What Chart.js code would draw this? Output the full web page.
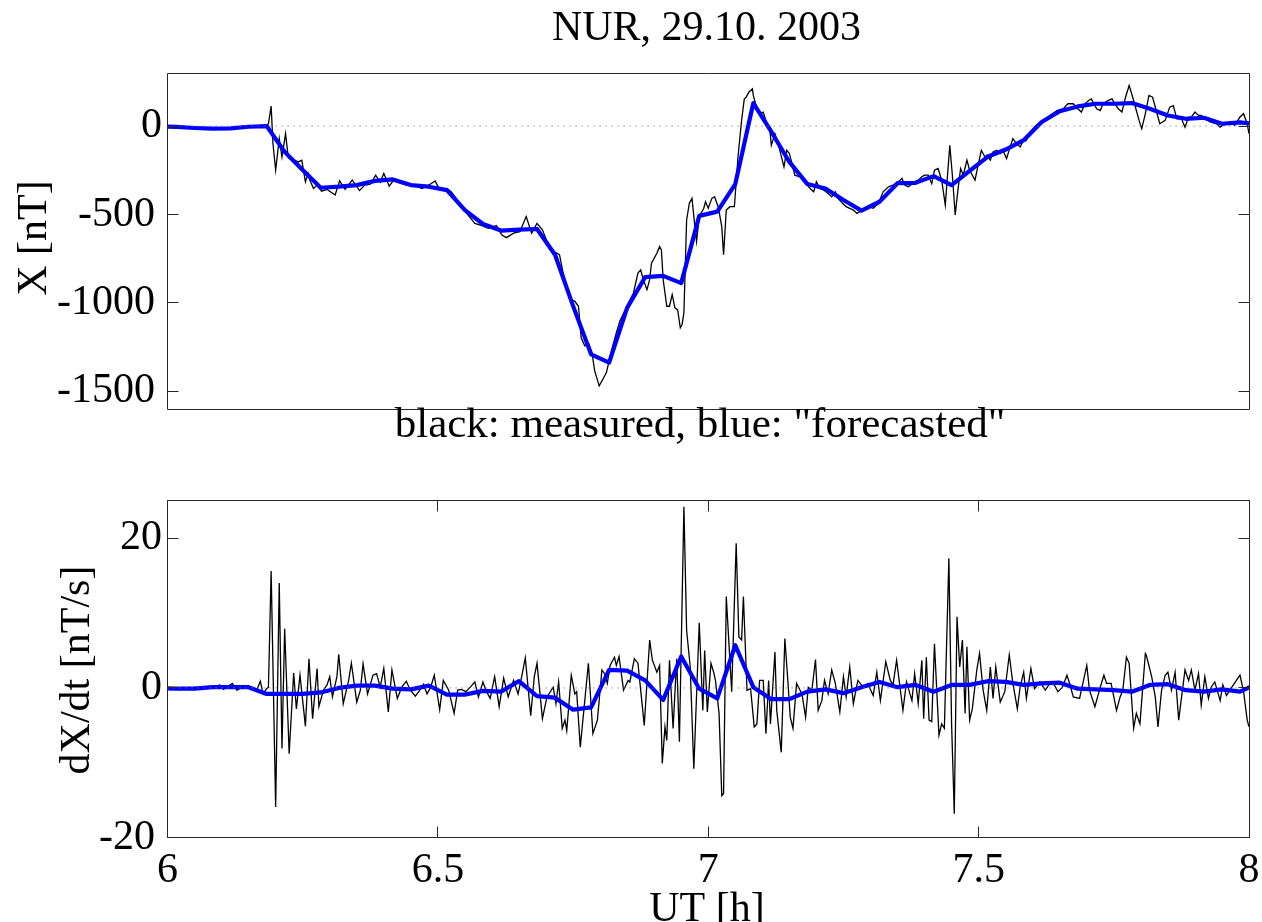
<!DOCTYPE html>
<html>
<head>
<meta charset="utf-8">
<title>NUR, 29.10. 2003</title>
<script src="https://cdn.jsdelivr.net/npm/chart.js@4.4.1/dist/chart.umd.min.js"></script>
<style>
  html, body { margin: 0; padding: 0; background: #fff; overflow: hidden; }
  #wrap { position: relative; width: 1262px; height: 922px; background: #fff; }
  canvas { position: absolute; left: 0; }
  #c1 { top: 0; }
  #c2 { top: 460px; }
</style>
</head>
<body>
<div id="wrap">
  <canvas id="c1" width="1262" height="460"></canvas>
  <canvas id="c2" width="1262" height="462"></canvas>
</div>
<script>
// ---------------- DATA ----------------
// time axis: minutes after 06:00 UT
const xRangeH = [6, 8];
const xTicks = [6, 6.5, 7, 7.5, 8];
const xTickLabels = ['6', '6.5', '7', '7.5', '8'];
const yTicksX = [-1500, -1000, -500, 0];
const yRangeX = [-1600, 300];
const yTicksD = [-20, 0, 20];
const yRangeD = [-20, 25];

// "forecasted" series (blue), one value every 2 minutes
const fcMin = [-1,1,3,5,7,9,11,13,15,17, 19,21,23,25,27,29,31,33,35,37,
  39,41,43,45,47,49,51,53,55,57, 59,61,63,65,67,69,71,73,75,77,
  79,81,83,85,87,89,91,93,95,97, 99,101,103,105,107,109,111,113,115,117,
  119,121];
const fcX = [-2,-5,-11,-15,-13,-4,0,-146,-249,-349,
  -343,-334,-310,-302,-334,-343,-362,-475,-554,-591,
  -586,-582,-728,-1017,-1291,-1338,-1028,-854,-847,-888,
  -508,-484,-328,130,-32,-203,-328,-353,-418,-478,
  -428,-323,-321,-283,-334,-253,-174,-133,-80,23,
  84,111,126,126,130,98,60,41,47,13,
  21,10];
const fcD = [0,-0.1,-0.1,0.1,0.1,0.1,-0.8,-0.8,-0.8,-0.6,
  0.0,0.3,0.3,-0.1,-0.2,0.3,-0.9,-0.9,-0.4,-0.5,
  0.9,-1.1,-1.3,-2.9,-2.6,2.4,2.3,1.0,-1.6,4.2,
  -0.1,-1.4,5.7,0.1,-1.5,-1.5,-0.5,-0.2,-0.7,0.1,
  0.8,0.1,0.4,-0.5,0.4,0.4,0.9,0.8,0.4,0.6,
  0.7,-0.1,-0.2,-0.3,-0.5,0.4,0.5,-0.3,-0.5,-0.2,
  -0.5,0.6];

// measured X (black), turning points
const measXMin = [0,2.1,4.7,6.6,8.0,9.9,10.9,11.2,11.5,11.7,
  12.0,12.4,12.7,13.1,13.4,13.8,14.1,14.5,14.9,15.3,
  15.6,15.8,16.2,16.6,17.1,17.7,18.6,19.1,19.7,20.5,
  21.3,21.9,22.5,23.1,23.6,24.0,24.6,25.1,25.8,26.5,
  27.3,28.2,28.8,29.7,30.2,31.0,31.5,32.3,33.2,34.1,
  34.9,35.6,36.2,36.5,37.1,37.6,38.4,39.1,39.8,40.4,
  41.0,41.6,42.1,42.6,43.2,43.5,43.9,44.5,44.8,45.2,
  45.6,45.9,46.3,46.7,47.1,47.4,47.9,48.3,48.7,49.3,
  49.8,50.2,50.9,51.7,52.2,52.5,52.8,53.2,53.5,53.7,
  54.3,54.6,54.8,55.0,55.4,55.7,56.0,56.3,56.6,56.9,
  57.1,57.3,57.6,57.9,58.2,58.4,58.7,59.0,59.5,59.7,
  60.0,60.4,60.7,61.1,61.5,61.7,62.0,62.4,62.9,63.3,
  63.7,64.0,64.2,64.5,64.9,65.0,65.4,65.7,66.1,66.5,
  66.8,67.0,67.4,67.8,68.4,68.7,69.0,69.3,69.6,70.2,
  70.7,71.3,71.7,72.0,72.4,72.8,73.3,73.7,74.1,74.4,
  74.9,75.3,75.7,76.1,76.5,76.8,77.2,77.8,78.3,78.9,
  79.4,80.0,80.5,81.1,81.5,81.8,82.2,82.7,83.3,83.7,
  84.0,84.4,84.8,85.1,85.5,85.9,86.3,86.8,87.1,87.4,
  87.7,88.0,88.3,88.7,89.0,89.6,89.9,90.3,90.7,90.9,
  91.3,91.6,92.0,92.4,92.7,93.1,93.5,93.8,94.2,94.6,
  94.9,95.3,95.7,96.4,97.2,97.9,98.7,99.4,99.9,100.5,
  101.0,101.4,101.8,102.2,102.5,103.1,103.5,103.8,104.4,104.8,
  105.1,105.5,105.9,106.3,106.7,107.1,107.5,107.8,108.1,108.5,
  108.9,109.3,109.8,110.1,110.7,111.2,111.6,112.0,112.5,112.9,
  113.3,113.6,114.0,114.4,114.7,115.1,115.7,116.4,116.8,117.3,
  117.9,118.4,119.0,119.4,119.8,120.0];
const measXVal = [0,-5,-13,-11,-4,2,-2,13,113,-99,
  -250,-71,-175,-43,-178,-193,-193,-203,-193,-315,
  -268,-306,-353,-334,-368,-358,-390,-310,-358,-305,
  -365,-334,-328,-278,-317,-268,-340,-306,-321,-334,
  -332,-353,-340,-310,-362,-353,-372,-428,-494,-550,
  -563,-578,-569,-563,-616,-631,-606,-597,-512,-606,
  -550,-587,-653,-709,-719,-728,-831,-944,-981,-991,
  -1019,-1197,-1244,-1226,-1282,-1385,-1469,-1432,-1394,-1263,
  -1169,-1103,-1028,-944,-831,-813,-869,-925,-869,-775,
  -719,-681,-700,-869,-1019,-1019,-953,-1028,-1038,-1141,
  -1122,-1056,-531,-437,-409,-512,-653,-512,-465,-428,
  -465,-409,-400,-456,-569,-728,-475,-456,-456,-175,
  32,154,163,191,210,173,98,70,79,13,
  -6,-109,-43,-109,-231,-137,-156,-212,-278,-287,
  -315,-353,-372,-315,-353,-362,-381,-400,-372,-409,
  -437,-456,-465,-475,-494,-484,-475,-456,-465,-437,
  -372,-343,-334,-315,-296,-334,-343,-325,-306,-287,
  -278,-278,-325,-250,-240,-306,-447,-109,-287,-503,
  -362,-240,-278,-193,-250,-306,-231,-137,-175,-165,
  -193,-146,-137,-156,-137,-184,-118,-71,-99,-118,
  -90,-81,-34,4,32,60,88,98,126,126,
  98,79,126,145,154,98,88,126,145,154,
  126,98,79,163,229,163,88,32,-15,70,
  173,163,70,13,32,107,116,41,41,-6,
  51,51,79,60,60,41,23,13,-6,13,
  23,4,51,70,13,-43];

// measured dX/dt (black), turning points
const measDMin = [0,5.4,5.8,6.2,7.2,7.7,8.2,8.9,9.9,10.3,
  10.6,11.0,11.2,11.5,12.0,12.4,12.7,13.0,13.5,14.0,
  14.3,14.7,15.3,15.7,16.1,16.6,16.8,17.3,17.7,18.0,
  18.3,18.8,19.0,19.5,20.1,20.4,21.0,21.4,21.7,22.2,
  22.8,23.2,23.6,24.0,24.5,24.9,25.5,26.0,26.5,26.9,
  27.5,28.0,28.4,28.8,29.2,29.6,30.2,30.6,31.2,31.8,
  32.2,32.6,33.1,33.6,34.1,34.5,35.0,35.4,35.8,36.3,
  36.8,37.3,37.8,38.4,38.9,39.3,39.7,40.3,40.7,41.0,
  41.6,42.1,42.8,43.1,43.4,43.8,44.1,44.3,44.8,45.2,
  45.4,45.8,46.7,47.2,47.7,48.2,48.5,48.8,49.1,49.6,
  49.8,50.1,50.4,50.6,51.1,51.3,51.8,52.2,52.9,53.5,
  53.8,54.3,54.6,54.9,55.2,55.4,55.7,56.1,56.5,56.8,
  57.3,57.6,58.0,58.4,59.0,59.4,59.6,59.9,60.3,60.6,
  60.8,61.2,61.5,61.7,62.0,62.6,63.1,63.4,63.7,63.9,
  64.3,64.7,65.1,65.4,65.7,66.1,66.4,66.7,66.9,67.4,
  67.6,68.1,68.5,68.8,69.1,69.4,69.8,70.4,70.8,71.1,
  71.5,71.9,72.2,72.6,72.9,73.3,73.7,74.1,74.6,75.0,
  75.3,75.7,76.1,76.6,77.2,77.7,78.3,78.7,79.1,79.7,
  80.2,80.5,80.9,81.6,82.0,82.6,82.9,83.3,83.7,83.9,
  84.2,84.5,84.8,85.1,85.6,85.9,86.2,86.7,87.0,87.3,
  87.6,87.9,88.2,88.5,88.7,89.0,89.3,89.8,90.1,90.5,
  90.9,91.3,91.6,91.9,92.4,92.9,93.4,93.8,94.3,94.6,
  95.0,95.3,95.8,96.2,96.8,97.4,97.9,98.3,98.8,99.3,
  99.8,100.1,100.5,101.2,102.0,102.3,102.9,103.5,103.9,104.2,
  104.7,105.3,105.7,106.0,106.4,106.7,107.2,107.5,107.9,108.5,
  108.6,109.2,109.6,109.9,110.3,110.7,111.0,111.4,111.8,112.2,
  112.5,112.9,113.3,113.6,114.0,114.4,114.7,115.1,115.5,115.8,
  116.2,116.8,117.1,117.5,118.1,118.6,119.0,119.4,119.8,120.0];
const measDVal = [0,0.1,0.4,-0.2,0.6,-0.3,0.0,0.1,-0.3,0.9,
  -0.8,-0.1,0.1,15.6,-15.9,14.0,-8.1,7.9,-8.8,2.0,
  -2.8,1.7,-5.1,3.9,-4.1,2.6,-2.5,-0.3,0.4,1.5,
  -1.2,1.5,4.5,-2.1,1.0,3.3,-1.9,-0.3,3.2,-0.8,
  1.7,1.9,0.1,2.6,-3.2,2.4,-1.4,0.1,0.9,-0.2,
  -1.1,-0.3,0.5,-0.8,0.1,1.7,-2.9,1.0,-0.3,-3.4,
  -0.3,-0.2,-0.5,0.1,0.8,-1.2,0.8,-0.5,-1.4,1.5,
  -2.5,1.3,-1.2,1.0,-0.8,1.5,4.0,-3.7,1.5,3.3,
  -4.1,-1.2,0.1,-2.1,0.8,-5.4,-4.3,-5.7,1.7,-0.8,
  -0.5,-7.9,3.3,-6.1,-4.3,2.4,1.9,0.6,3.0,4.1,
  3.0,4.2,1.5,-0.3,1.0,0.8,3.9,3.3,-5.0,6.4,
  3.7,2.1,3.0,-10.1,-5.2,-7.0,3.7,-5.4,3.9,-7.2,
  24.2,7.7,2.8,-10.8,8.7,-3.0,5.0,-3.2,3.3,2.1,
  1.0,-3.4,-14.4,-14.1,12.2,-0.5,19.3,6.8,6.4,12.2,
  -0.3,-0.1,-5.2,-4.8,1.0,1.0,-6.1,1.0,-4.8,4.8,
  -3.0,-8.6,6.6,1.5,-3.9,-5.4,0.6,-0.8,-3.9,0.1,
  -0.3,3.8,-3.0,-1.7,1.0,-0.8,2.4,0.6,-3.2,1.5,
  -1.2,2.8,-2.1,1.0,0.1,0.6,-1.0,2.1,-1.7,3.5,
  1.0,0.4,3.7,-3.0,0.8,-1.7,1.9,-2.1,3.7,-4.1,
  4.1,-4.3,-4.5,5.9,-6.3,-4.8,-5.4,17.3,-4.8,-16.8,
  9.5,2.8,6.4,-3.4,5.5,-4.3,-2.8,2.4,4.6,-0.3,
  -3.0,2.8,-1.4,2.8,-1.9,-0.5,4.4,0.6,-2.8,0.1,
  2.1,-1.4,2.6,-0.1,0.8,-0.3,0.6,0.6,-0.5,0.1,
  1.7,0.6,-1.2,-1.4,3.0,-0.3,-2.5,0.1,1.7,0.6,
  0.6,-3.0,-1.2,-0.3,4.1,3.3,-5.4,-3.4,-4.8,4.6,
  4.4,1.5,-1.2,-5.2,-0.3,1.7,2.1,-0.3,2.1,-4.3,
  -1.4,2.4,1.0,2.4,-0.3,1.9,-2.3,1.5,-1.4,0.1,
  0.8,-1.7,0.4,-1.0,0.1,1.0,1.7,-0.5,-4.3,-5.2];

// ---------------- helpers ----------------
const FONT = '"Liberation Serif", "Times New Roman", Times, serif';
const toH = m => xRangeH[0] + m / 60;
const pts = (mins, vals) => mins.map((m, i) => ({ x: toH(m), y: vals[i] }));
const fmtY = v => (v < 0 ? String(v) + '\u2006' : String(v));

const framePlugin = (withXTicks) => ({
  id: 'matlabFrame',
  afterDatasetsDraw(chart) {
    const { ctx, chartArea: a, scales } = chart;
    const L = Math.floor(a.left) + 0.5, R = Math.floor(a.right) + 0.5;
    const T = Math.floor(a.top) + 0.5, B = Math.floor(a.bottom) + 0.5;
    const tl = 11;
    ctx.save();
    ctx.strokeStyle = '#262626';
    ctx.lineWidth = 1;
    ctx.beginPath();
    ctx.rect(L, T, R - L, B - T);
    scales.y.ticks.forEach(t => {
      const y = Math.floor(scales.y.getPixelForValue(t.value)) + 0.5;
      ctx.moveTo(L, y); ctx.lineTo(L + tl, y);
      ctx.moveTo(R, y); ctx.lineTo(R - tl, y);
    });
    if (withXTicks) {
      scales.x.ticks.forEach(t => {
        const x = Math.floor(scales.x.getPixelForValue(t.value)) + 0.5;
        ctx.moveTo(x, B); ctx.lineTo(x, B - tl);
        ctx.moveTo(x, T); ctx.lineTo(x, T + tl);
      });
    }
    ctx.stroke();
    ctx.restore();
  }
});

const textPlugin = (items) => ({
  id: 'figText',
  afterDraw(chart) {
    const ctx = chart.ctx;
    items.forEach(it => {
      ctx.save();
      ctx.font = it.size + 'px ' + FONT;
      ctx.fillStyle = '#000';
      ctx.textAlign = 'center';
      ctx.textBaseline = 'alphabetic';
      ctx.translate(it.x, it.y);
      if (it.rot) ctx.rotate(it.rot);
      ctx.fillText(it.text, 0, 0);
      ctx.restore();
    });
  }
});

const lineDefaults = { pointRadius: 0, pointHoverRadius: 0, tension: 0, clip: 0, fill: false };

function zeroLine() {
  return Object.assign({}, lineDefaults, {
    label: 'zero', data: [{ x: xRangeH[0], y: 0 }, { x: xRangeH[1], y: 0 }],
    borderColor: '#7a7a7a', borderWidth: 1, borderDash: [1.2, 4.8], order: 0
  });
}

const yTickOpts = {
  padding: 5.5, color: '#000', autoSkip: false,
  font: { family: FONT, size: 42 }, callback: v => fmtY(v)
};

// ---------------- top chart: X [nT] ----------------
new Chart(document.getElementById('c1'), {
  type: 'line',
  data: {
    datasets: [
      zeroLine(),
      Object.assign({}, lineDefaults, { label: 'forecasted', data: pts(fcMin, fcX),
        borderColor: '#0000ff', borderWidth: 4.2, borderJoinStyle: 'round', order: 1 }),
      Object.assign({}, lineDefaults, { label: 'measured', data: pts(measXMin, measXVal),
        borderColor: '#000000', borderWidth: 1.3, order: 2 })
    ]
  },
  options: {
    responsive: false, animation: false, devicePixelRatio: 1,
    layout: { padding: { left: 0, top: 73, right: 13, bottom: 51 } },
    plugins: { legend: { display: false }, tooltip: { enabled: false } },
    scales: {
      x: { type: 'linear', min: xRangeH[0], max: xRangeH[1], display: false },
      y: {
        type: 'linear', min: yRangeX[0], max: yRangeX[1], position: 'left',
        afterBuildTicks: s => { s.ticks = yTicksX.map(v => ({ value: v })); },
        afterFit: s => { s.width = 167.5; s.paddingTop = 0; s.paddingBottom = 0; },
        grid: { display: false, drawTicks: false }, border: { display: false },
        ticks: yTickOpts
      }
    }
  },
  plugins: [framePlugin(false), textPlugin([
    { text: 'NUR, 29.10. 2003', x: 706.5, y: 39.5, size: 42 },
    { text: 'black: measured, blue: "forecasted"', x: 700, y: 437, size: 43 },
    { text: 'X [nT]', x: 46, y: 238, size: 42, rot: -Math.PI / 2 }
  ])]
});

// ---------------- bottom chart: dX/dt [nT/s] ----------------
new Chart(document.getElementById('c2'), {
  type: 'line',
  data: {
    datasets: [
      zeroLine(),
      Object.assign({}, lineDefaults, { label: 'forecasted', data: pts(fcMin, fcD),
        borderColor: '#0000ff', borderWidth: 4.2, borderJoinStyle: 'round', order: 1 }),
      Object.assign({}, lineDefaults, { label: 'measured', data: pts(measDMin, measDVal),
        borderColor: '#000000', borderWidth: 1.3, order: 2 })
    ]
  },
  options: {
    responsive: false, animation: false, devicePixelRatio: 1,
    layout: { padding: { left: 0, top: 40.7, right: 13, bottom: 0 } },
    plugins: { legend: { display: false }, tooltip: { enabled: false } },
    scales: {
      x: {
        type: 'linear', min: xRangeH[0], max: xRangeH[1], position: 'bottom',
        afterBuildTicks: s => { s.ticks = xTicks.map(v => ({ value: v })); },
        afterFit: s => { s.height = 84.3; s.paddingLeft = 0; s.paddingRight = 0; },
        grid: { display: false, drawTicks: false }, border: { display: false },
        ticks: { padding: 8, color: '#000', autoSkip: false, maxRotation: 0, minRotation: 0,
          font: { family: FONT, size: 42 }, callback: (v, i) => xTickLabels[i] }
      },
      y: {
        type: 'linear', min: yRangeD[0], max: yRangeD[1], position: 'left',
        afterBuildTicks: s => { s.ticks = yTicksD.map(v => ({ value: v })); },
        afterFit: s => { s.width = 167.5; s.paddingTop = 0; s.paddingBottom = 0; },
        grid: { display: false, drawTicks: false }, border: { display: false },
        ticks: yTickOpts
      }
    }
  },
  plugins: [framePlugin(true), textPlugin([
    { text: 'dX/dt [nT/s]', x: 88.5, y: 210, size: 42, rot: -Math.PI / 2 },
    { text: 'UT [h]', x: 707, y: 461, size: 42 }
  ])]
});
</script>
</body>
</html>
